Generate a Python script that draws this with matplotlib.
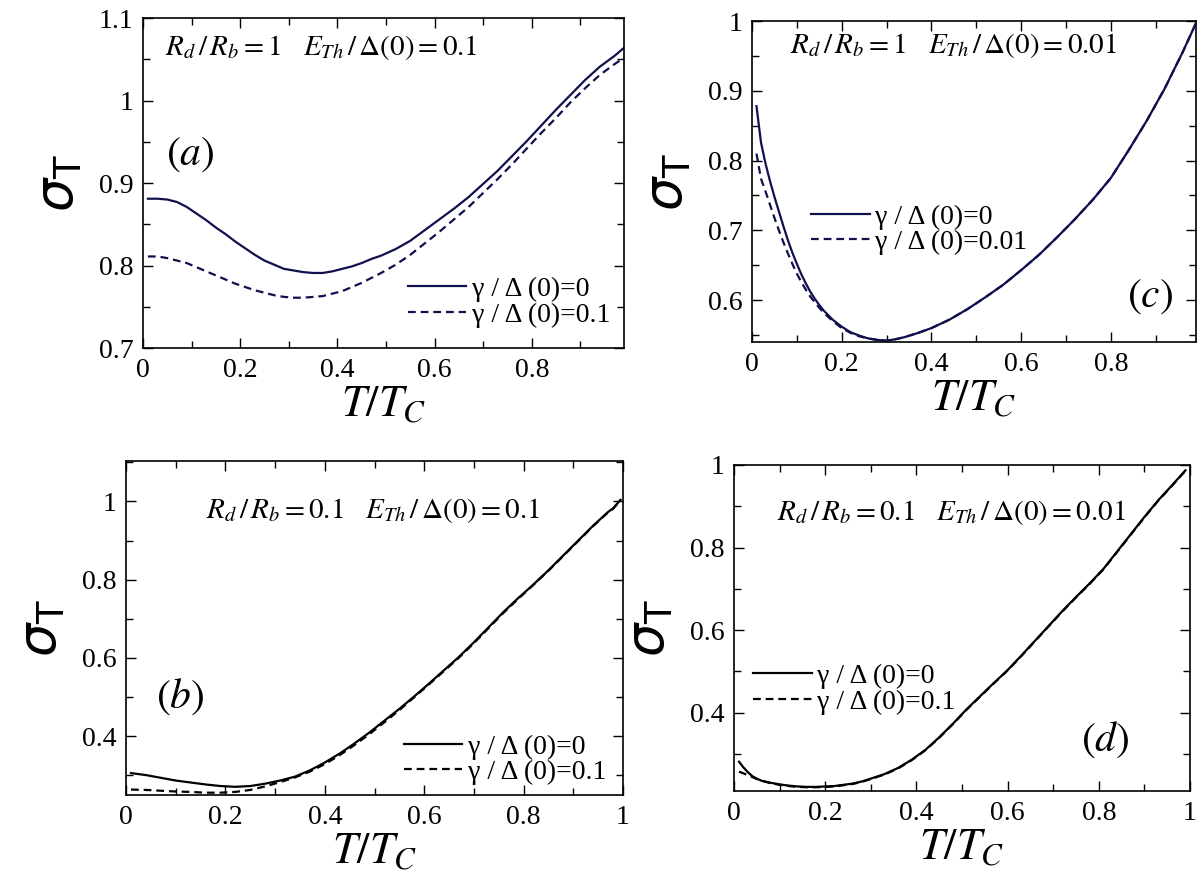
import numpy as np
import matplotlib
matplotlib.use("Agg")
import matplotlib.pyplot as plt
from matplotlib.ticker import MultipleLocator, FuncFormatter

plt.rcParams["font.family"] = ["Liberation Serif", "DejaVu Serif"]
plt.rcParams["mathtext.fontset"] = "stix"

NAVY = "#10104e"
BLACK = "#000000"

# ── (a) R_d/R_b = 1, E_Th/Δ(0) = 0.1 ──
a_x = [0.01, 0.03, 0.05, 0.07, 0.09, 0.11, 0.13, 0.15, 0.17, 0.19, 0.21, 0.23, 0.25, 0.27,
       0.29, 0.31, 0.33, 0.35, 0.37, 0.39, 0.41, 0.43, 0.45, 0.47, 0.49, 0.52, 0.55, 0.58,
       0.61, 0.64, 0.67, 0.70, 0.73, 0.76, 0.79, 0.82, 0.85, 0.88, 0.91, 0.94, 0.97, 0.99]
a_y_solid = [0.881, 0.881, 0.880, 0.877, 0.871, 0.863, 0.855, 0.846, 0.838, 0.829, 0.821,
             0.813, 0.806, 0.801, 0.796, 0.794, 0.792, 0.791, 0.791, 0.793, 0.796, 0.799,
             0.803, 0.808, 0.812, 0.820, 0.830, 0.843, 0.856, 0.869, 0.883, 0.899, 0.915,
             0.933, 0.951, 0.970, 0.989, 1.007, 1.025, 1.041, 1.054, 1.064]
a_y_dash = [0.811, 0.811, 0.809, 0.806, 0.803, 0.798, 0.793, 0.788, 0.783, 0.778, 0.774,
            0.770, 0.767, 0.764, 0.762, 0.761, 0.761, 0.762, 0.763, 0.766, 0.769, 0.774,
            0.779, 0.785, 0.791, 0.801, 0.813, 0.827, 0.841, 0.856, 0.871, 0.888, 0.905,
            0.923, 0.942, 0.961, 0.979, 0.998, 1.015, 1.031, 1.044, 1.052]

# ── (c) R_d/R_b = 1, E_Th/Δ(0) = 0.01 ──
c_x = [0.01, 0.02, 0.03, 0.04, 0.05, 0.06, 0.07, 0.08, 0.09, 0.10, 0.11, 0.12, 0.13, 0.14,
       0.15, 0.16, 0.18, 0.20, 0.22, 0.24, 0.26, 0.28, 0.30, 0.32, 0.34, 0.37, 0.40, 0.44,
       0.48, 0.52, 0.56, 0.60, 0.64, 0.68, 0.72, 0.76, 0.80, 0.84, 0.88, 0.92, 0.96, 0.99]
c_y_solid = [0.878, 0.826, 0.796, 0.771, 0.748, 0.727, 0.706, 0.686, 0.668, 0.652, 0.637,
             0.624, 0.612, 0.602, 0.593, 0.585, 0.572, 0.562, 0.554, 0.549, 0.545, 0.543,
             0.542, 0.544, 0.547, 0.553, 0.560, 0.572, 0.587, 0.604, 0.622, 0.643, 0.665,
             0.690, 0.716, 0.744, 0.775, 0.815, 0.857, 0.903, 0.955, 0.997]
c_y_dash = [0.810, 0.774, 0.756, 0.737, 0.718, 0.700, 0.683, 0.667, 0.652, 0.638, 0.626,
            0.615, 0.605, 0.597, 0.589, 0.582, 0.570, 0.560, 0.553, 0.548, 0.545, 0.543,
            0.542, 0.544, 0.547, 0.553, 0.560, 0.572, 0.587, 0.604, 0.622, 0.643, 0.665,
            0.690, 0.716, 0.744, 0.775, 0.815, 0.857, 0.903, 0.955, 0.997]

# ── (b) R_d/R_b = 0.1, E_Th/Δ(0) = 0.1 ──
b_x = [0.01, 0.04, 0.07, 0.10, 0.13, 0.16, 0.19, 0.22, 0.25, 0.28, 0.31, 0.34, 0.37, 0.40,
       0.43, 0.46, 0.49, 0.52, 0.55, 0.58, 0.61, 0.64, 0.67, 0.70, 0.73, 0.76, 0.79, 0.82,
       0.85, 0.88, 0.91, 0.94, 0.97, 0.98, 0.995]
b_y_solid = [0.306, 0.301, 0.294, 0.287, 0.282, 0.277, 0.273, 0.271, 0.273, 0.279, 0.287,
             0.297, 0.313, 0.333, 0.356, 0.382, 0.410, 0.440, 0.470, 0.502, 0.535, 0.569,
             0.603, 0.640, 0.679, 0.718, 0.754, 0.788, 0.824, 0.862, 0.900, 0.938, 0.973,
             0.982, 1.004]
b_y_dash = [0.264, 0.263, 0.261, 0.259, 0.258, 0.256, 0.256, 0.258, 0.263, 0.272, 0.283,
            0.295, 0.310, 0.329, 0.352, 0.378, 0.406, 0.436, 0.467, 0.500, 0.533, 0.567,
            0.601, 0.638, 0.677, 0.716, 0.752, 0.787, 0.823, 0.861, 0.899, 0.937, 0.972,
            0.981, 1.003]

# ── (d) R_d/R_b = 0.1, E_Th/Δ(0) = 0.01 ──
d_x = [0.011, 0.02, 0.03, 0.04, 0.05, 0.06, 0.08, 0.10, 0.12, 0.14, 0.16, 0.18, 0.20, 0.22,
       0.24, 0.26, 0.28, 0.30, 0.33, 0.36, 0.39, 0.42, 0.45, 0.48, 0.51, 0.54, 0.57, 0.60,
       0.63, 0.66, 0.69, 0.72, 0.75, 0.78, 0.81, 0.84, 0.87, 0.90, 0.93, 0.96, 0.99]
d_y_solid = [0.281, 0.268, 0.256, 0.246, 0.240, 0.235, 0.230, 0.226, 0.223, 0.221, 0.220,
             0.220, 0.221, 0.222, 0.225, 0.228, 0.233, 0.240, 0.251, 0.266, 0.286, 0.310,
             0.340, 0.373, 0.408, 0.440, 0.472, 0.503, 0.538, 0.574, 0.610, 0.646, 0.680,
             0.713, 0.748, 0.790, 0.832, 0.874, 0.914, 0.950, 0.987]
d_y_dash = [0.257, 0.253, 0.249, 0.244, 0.239, 0.235, 0.229, 0.225, 0.222, 0.220, 0.219,
            0.219, 0.220, 0.221, 0.224, 0.227, 0.232, 0.239, 0.250, 0.265, 0.285, 0.309,
            0.339, 0.372, 0.407, 0.439, 0.471, 0.502, 0.537, 0.573, 0.609, 0.645, 0.679,
            0.712, 0.747, 0.789, 0.831, 0.873, 0.913, 0.949, 0.986]

panels = [
    dict(rect=[0.1193, 0.6107, 0.4012, 0.3691], x=a_x, ys=a_y_solid, yd=a_y_dash,
         color=NAVY, xlim=(0, 0.99), ylim=(0.7, 1.1), ymaj=0.1, ymin=0.05,
         note=r"$R_d\,/\,R_b=1\ \ \ E_{Th}\,/\,\Delta\left(0\right)=0.1$", note_xy=(0.046, 0.91),
         tag=r"$(a)$", tag_xy=(0.098, 0.585),
         labels=["γ / Δ (0)=0", "γ / Δ (0)=0.1"], leg_xy=(0.51, 0.275)),
    dict(rect=[0.6272, 0.6174, 0.3703, 0.3591], x=c_x, ys=c_y_solid, yd=c_y_dash,
         color=NAVY, xlim=(0, 0.99), ylim=(0.54, 1.0), ymaj=0.1, ymin=0.05,
         note=r"$R_d\,/\,R_b=1\ \ \ E_{Th}\,/\,\Delta\left(0\right)=0.01$", note_xy=(0.086, 0.925),
         tag=r"$(c)$", tag_xy=(0.896, 0.14),
         labels=["γ / Δ (0)=0", "γ / Δ (0)=0.01"], leg_xy=(0.09, 0.49)),
    dict(rect=[0.1051, 0.1107, 0.4145, 0.3736], x=b_x, ys=b_y_solid, yd=b_y_dash,
         color=BLACK, xlim=(0, 1.0), ylim=(0.25, 1.103), ymaj=0.2, ymin=0.1,
         note=r"$R_d\,/\,R_b=0.1\ \ \ E_{Th}\,/\,\Delta\left(0\right)=0.1$", note_xy=(0.16, 0.853),
         tag=r"$(b)$", tag_xy=(0.109, 0.293),
         labels=["γ / Δ (0)=0", "γ / Δ (0)=0.1"], leg_xy=(0.52, 0.24)),
    dict(rect=[0.6122, 0.1152, 0.3803, 0.3647], x=d_x, ys=d_y_solid, yd=d_y_dash,
         color=BLACK, xlim=(0, 1.0), ylim=(0.21, 1.0), ymaj=0.2, ymin=0.1,
         note=r"$R_d\,/\,R_b=0.1\ \ \ E_{Th}\,/\,\Delta\left(0\right)=0.01$", note_xy=(0.095, 0.853),
         tag=r"$(d)$", tag_xy=(0.814, 0.156),
         labels=["γ / Δ (0)=0", "γ / Δ (0)=0.1"], leg_xy=(0.0, 0.45)),
]

fmt = FuncFormatter(lambda v, pos: "%g" % round(v, 3))

fig = plt.figure(figsize=(11.99, 8.94), dpi=100)

for p in panels:
    ax = fig.add_axes(p["rect"])
    ax.plot(p["x"], p["ys"], color=p["color"], lw=1.6, label=p["labels"][0])
    ax.plot(p["x"], p["yd"], color=p["color"], lw=1.6, dashes=(3.5, 2.2), label=p["labels"][1])

    ax.set_xlim(*p["xlim"])
    ax.set_ylim(*p["ylim"])
    ax.xaxis.set_major_locator(MultipleLocator(0.2))
    ax.xaxis.set_minor_locator(MultipleLocator(0.1))
    ax.yaxis.set_major_locator(MultipleLocator(p["ymaj"]))
    ax.yaxis.set_minor_locator(MultipleLocator(p["ymin"]))
    ax.xaxis.set_major_formatter(fmt)
    ax.yaxis.set_major_formatter(fmt)
    ax.tick_params(which="both", direction="in", top=True, right=True, labelsize=20,
                   width=1.0, pad=7)
    ax.tick_params(which="major", length=7)
    ax.tick_params(which="minor", length=5)
    for s in ax.spines.values():
        s.set_linewidth(1.2)

    ax.set_xlabel(r"$T/T_C$", fontsize=32, labelpad=2)
    ax.set_ylabel(r"$\sigma_{\mathrm{T}}$", fontsize=38, math_fontfamily="dejavusans",
                  labelpad=10)

    ax.text(*p["note_xy"], p["note"], transform=ax.transAxes, fontsize=21,
            ha="left", va="center")
    ax.text(*p["tag_xy"], p["tag"], transform=ax.transAxes, fontsize=30,
            ha="center", va="center")
    ax.legend(loc="upper left", bbox_to_anchor=p["leg_xy"], frameon=False, fontsize=20,
              handlelength=2.1, handletextpad=0.2, labelspacing=0.0, borderpad=0.2)

fig.savefig("out.png", dpi=100)
